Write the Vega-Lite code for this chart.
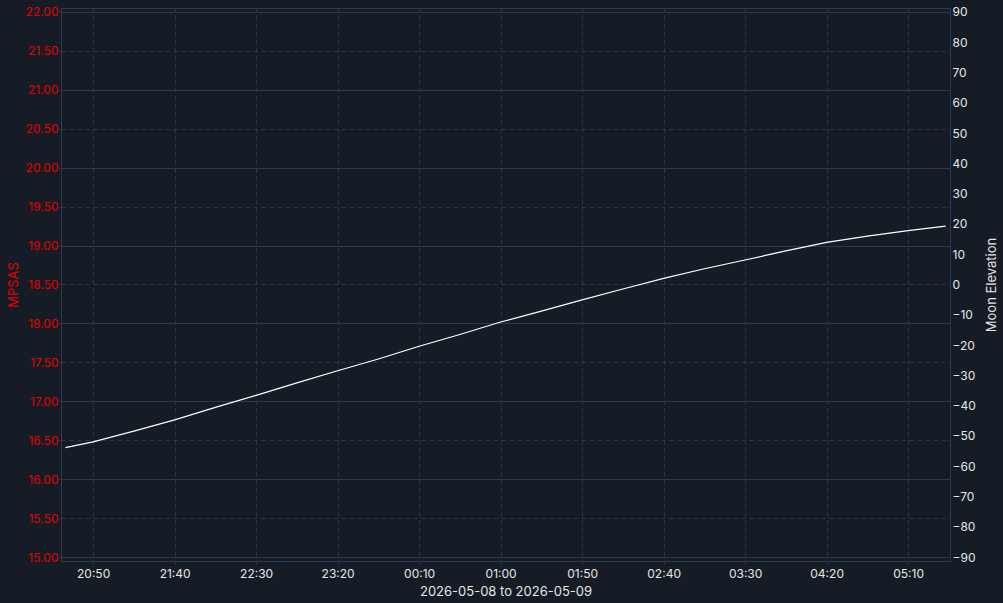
{
  "$schema": "https://vega.github.io/schema/vega-lite/v6.json",
  "width": 889,
  "height": 553,
  "autosize": {"type": "none"},
  "padding": {"left": 61, "top": 8, "right": 53, "bottom": 42},
  "background": "#151c25",
  "config": {
    "view": {"stroke": "#2a3b4f", "strokeWidth": 1},
    "axis": {
      "labelFont": "Inter",
      "titleFont": "Inter",
      "labelFontSize": 12,
      "titleFontSize": 13,
      "titleFontWeight": "normal",
      "domain": false
    }
  },
  "datasets": {
    "mpsas": [],
    "moon": [
      {"time": "2026-05-08T20:33:00Z", "elevation": -53.9},
      {"time": "2026-05-08T20:50:00Z", "elevation": -52.0},
      {"time": "2026-05-08T21:15:00Z", "elevation": -48.4},
      {"time": "2026-05-08T21:40:00Z", "elevation": -44.7},
      {"time": "2026-05-08T22:05:00Z", "elevation": -40.6},
      {"time": "2026-05-08T22:30:00Z", "elevation": -36.6},
      {"time": "2026-05-08T22:55:00Z", "elevation": -32.5},
      {"time": "2026-05-08T23:20:00Z", "elevation": -28.5},
      {"time": "2026-05-08T23:45:00Z", "elevation": -24.6},
      {"time": "2026-05-09T00:10:00Z", "elevation": -20.4},
      {"time": "2026-05-09T00:35:00Z", "elevation": -16.5},
      {"time": "2026-05-09T01:00:00Z", "elevation": -12.4},
      {"time": "2026-05-09T01:25:00Z", "elevation": -8.8},
      {"time": "2026-05-09T01:50:00Z", "elevation": -5.1},
      {"time": "2026-05-09T02:15:00Z", "elevation": -1.5},
      {"time": "2026-05-09T02:40:00Z", "elevation": 2.0},
      {"time": "2026-05-09T03:05:00Z", "elevation": 5.2},
      {"time": "2026-05-09T03:30:00Z", "elevation": 8.1},
      {"time": "2026-05-09T03:55:00Z", "elevation": 11.1},
      {"time": "2026-05-09T04:20:00Z", "elevation": 13.9},
      {"time": "2026-05-09T04:45:00Z", "elevation": 16.0},
      {"time": "2026-05-09T05:10:00Z", "elevation": 17.8},
      {"time": "2026-05-09T05:33:00Z", "elevation": 19.3}
    ]
  },
  "encoding": {
    "x": {
      "field": "time",
      "type": "temporal",
      "scale": {
        "type": "utc",
        "nice": false,
        "domain": [
          {"year": 2026, "month": 5, "date": 8, "hours": 20, "minutes": 30, "seconds": 18, "utc": true},
          {"year": 2026, "month": 5, "date": 9, "hours": 5, "minutes": 35, "seconds": 42, "utc": true}
        ]
      },
      "axis": {
        "title": "2026-05-08 to 2026-05-09",
        "titleColor": "#e6e6e6",
        "titleX": 444.5,
        "titleY": 30,
        "titleBaseline": "middle",
        "labelColor": "#e6e6e6",
        "format": "%H:%M",
        "values": [
          {"year": 2026, "month": 5, "date": 8, "hours": 20, "minutes": 50, "utc": true},
          {"year": 2026, "month": 5, "date": 8, "hours": 21, "minutes": 40, "utc": true},
          {"year": 2026, "month": 5, "date": 8, "hours": 22, "minutes": 30, "utc": true},
          {"year": 2026, "month": 5, "date": 8, "hours": 23, "minutes": 20, "utc": true},
          {"year": 2026, "month": 5, "date": 9, "hours": 0, "minutes": 10, "utc": true},
          {"year": 2026, "month": 5, "date": 9, "hours": 1, "minutes": 0, "utc": true},
          {"year": 2026, "month": 5, "date": 9, "hours": 1, "minutes": 50, "utc": true},
          {"year": 2026, "month": 5, "date": 9, "hours": 2, "minutes": 40, "utc": true},
          {"year": 2026, "month": 5, "date": 9, "hours": 3, "minutes": 30, "utc": true},
          {"year": 2026, "month": 5, "date": 9, "hours": 4, "minutes": 20, "utc": true},
          {"year": 2026, "month": 5, "date": 9, "hours": 5, "minutes": 10, "utc": true}
        ],
        "grid": true,
        "gridColor": "#2a3b4f",
        "gridDash": [4, 4],
        "tickSize": 3,
        "tickColor": "#2a3b4f",
        "labelPadding": 4
      }
    }
  },
  "layer": [
    {
      "data": {"name": "mpsas"},
      "mark": {"type": "line", "color": "#e60000"},
      "encoding": {
        "y": {
          "field": "mpsas",
          "type": "quantitative",
          "scale": {"domain": [14.949, 22.051], "nice": false, "zero": false},
          "axis": {
            "orient": "left",
            "title": "MPSAS",
            "titleColor": "#e60000",
            "titleAngle": -90,
            "titleBaseline": "middle",
            "titleX": -48,
            "titleY": 276.5,
            "labelColor": "#e60000",
            "format": ".2f",
            "values": [15, 15.5, 16, 16.5, 17, 17.5, 18, 18.5, 19, 19.5, 20, 20.5, 21, 21.5, 22],
            "grid": true,
            "gridColor": "#2a3b4f",
            "gridDash": {"condition": {"test": "datum.value % 1 === 0", "value": []}, "value": [4, 4]},
            "tickSize": 2,
            "tickColor": "#2a3b4f",
            "labelPadding": 1
          }
        }
      }
    },
    {
      "data": {"name": "moon"},
      "mark": {"type": "line", "color": "#ffffff", "strokeWidth": 1.2},
      "encoding": {
        "y": {
          "field": "elevation",
          "type": "quantitative",
          "scale": {"domain": [-91.32, 91.32], "nice": false, "zero": false},
          "axis": {
            "orient": "right",
            "title": "Moon Elevation",
            "titleColor": "#e6e6e6",
            "titleAngle": -90,
            "titleBaseline": "middle",
            "titleX": 41,
            "titleY": 276.5,
            "labelColor": "#e6e6e6",
            "values": [-90, -80, -70, -60, -50, -40, -30, -20, -10, 0, 10, 20, 30, 40, 50, 60, 70, 80, 90],
            "grid": false,
            "ticks": false,
            "labelPadding": 2
          }
        }
      }
    }
  ],
  "resolve": {"scale": {"y": "independent"}}
}
